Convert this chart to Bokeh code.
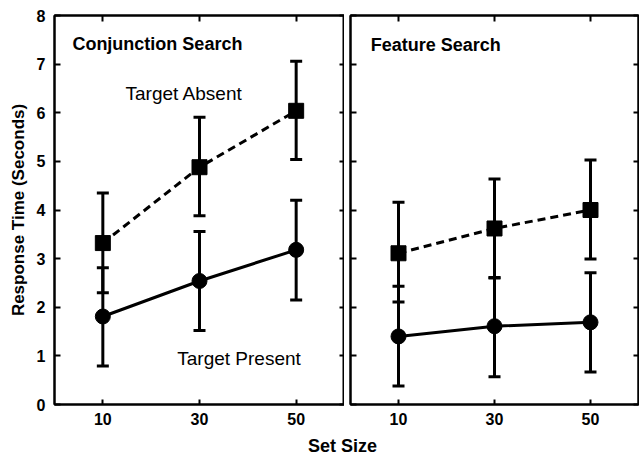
from bokeh.plotting import figure
from bokeh.models import (ColumnDataSource, Whisker, TeeHead, LinearAxis, Label,
                          Div, FixedTicker, Range1d)
from bokeh.layouts import row, column
from bokeh.embed import file_html
from bokeh.resources import INLINE

set_sizes = [10, 30, 50]
y_ticks = [0, 1, 2, 3, 4, 5, 6, 7, 8]

conj_absent = [3.32, 4.88, 6.04]
conj_absent_lo = [2.30, 3.88, 5.04]
conj_absent_hi = [4.35, 5.91, 7.06]
conj_present = [1.81, 2.54, 3.18]
conj_present_lo = [0.79, 1.52, 2.15]
conj_present_hi = [2.81, 3.56, 4.20]

feat_absent = [3.11, 3.62, 4.00]
feat_absent_lo = [2.11, 2.60, 2.99]
feat_absent_hi = [4.16, 4.64, 5.03]
feat_present = [1.40, 1.61, 1.69]
feat_present_lo = [0.38, 0.57, 0.67]
feat_present_hi = [2.43, 2.61, 2.71]

FONT = "Liberation Sans"


def style_axis(ax, tick_in, labels=True):
    ax.axis_line_width = 2
    ax.axis_line_color = "black"
    ax.major_tick_line_width = 2
    ax.major_tick_line_color = "black"
    ax.major_tick_in = tick_in
    ax.major_tick_out = 0
    ax.minor_tick_line_color = None
    if labels:
        ax.major_label_text_font = FONT
        ax.major_label_text_font_style = "bold"
        ax.major_label_text_font_size = "16px"
        ax.major_label_text_color = "black"
    else:
        ax.major_label_standoff = 0
        ax.major_label_text_font_size = "1px"


def panel(absent, a_lo, a_hi, present, p_lo, p_hi, width, left, right, first):
    p = figure(width=width, height=430, x_range=Range1d(0, 60), y_range=Range1d(0, 8),
               output_backend="svg", toolbar_location=None,
               min_border_left=left, min_border_right=right,
               min_border_top=15, min_border_bottom=26)
    p.background_fill_color = "white"
    p.border_fill_color = "white"
    p.outline_line_color = "black"
    p.outline_line_width = 2
    p.grid.visible = False

    p.xaxis.ticker = FixedTicker(ticks=set_sizes)
    p.yaxis.ticker = FixedTicker(ticks=y_ticks)
    style_axis(p.xaxis[0], 5)
    p.xaxis.major_label_standoff = 8
    style_axis(p.yaxis[0], 6, labels=first)
    if first:
        p.yaxis.major_label_standoff = 9
        p.yaxis.axis_label = "Response Time (Seconds)"
        p.yaxis.axis_label_text_font = FONT
        p.yaxis.axis_label_text_font_style = "bold"
        p.yaxis.axis_label_text_font_size = "17px"
        p.yaxis.axis_label_text_color = "black"
        p.yaxis.axis_label_standoff = 6
    else:
        p.yaxis.major_label_overrides = {t: "" for t in y_ticks}

    top = LinearAxis(ticker=FixedTicker(ticks=set_sizes),
                     major_label_overrides={t: "" for t in set_sizes})
    style_axis(top, 6, labels=False)
    p.add_layout(top, "above")
    rgt = LinearAxis(ticker=FixedTicker(ticks=y_ticks),
                     major_label_overrides={t: "" for t in y_ticks})
    style_axis(rgt, 5, labels=False)
    p.add_layout(rgt, "right")

    src_a = ColumnDataSource(dict(x=set_sizes, y=absent, lo=a_lo, hi=a_hi))
    src_p = ColumnDataSource(dict(x=set_sizes, y=present, lo=p_lo, hi=p_hi))
    for src in (src_a, src_p):
        p.add_layout(Whisker(source=src, base="x", lower="lo", upper="hi",
                             line_width=3, line_color="black",
                             upper_head=TeeHead(size=12, line_width=3, line_color="black"),
                             lower_head=TeeHead(size=12, line_width=3, line_color="black")))
    p.line("x", "y", source=src_a, line_width=3, line_color="black", line_dash="8 5")
    p.line("x", "y", source=src_p, line_width=3, line_color="black")
    p.scatter("x", "y", source=src_a, marker="square", size=15, color="black")
    p.scatter("x", "y", source=src_p, marker="circle", size=15, color="black")
    return p


p1 = panel(conj_absent, conj_absent_lo, conj_absent_hi,
           conj_present, conj_present_lo, conj_present_hi, 344, 54, 0, True)
p2 = panel(feat_absent, feat_absent_lo, feat_absent_hi,
           feat_present, feat_present_lo, feat_present_hi, 295, 6, 1, False)


def lab(p, x, y, text, bold=True, size="18px"):
    p.add_layout(Label(x=x, y=y, text=text, text_font=FONT,
                       text_font_style="bold" if bold else "normal",
                       text_font_size=size, text_baseline="middle",
                       text_color="black"))


lab(p1, 3.7, 7.42, "Conjunction Search")
lab(p1, 14.7, 6.40, "Target Absent", bold=False, size="19px")
lab(p1, 25.4, 0.95, "Target Present", bold=False, size="19px")
lab(p2, 4.2, 7.40, "Feature Search")

div = Div(text='<div style="line-height:21px;padding-top:6px">Set Size</div>',
          width=100, height=28, margin=(0, 0, 0, 308),
          styles={"font-family": FONT, "font-weight": "bold", "font-size": "18px",
                  "color": "black"})

layout = column(row(p1, p2), div)
open("out.html", "w").write(file_html(layout, INLINE))
